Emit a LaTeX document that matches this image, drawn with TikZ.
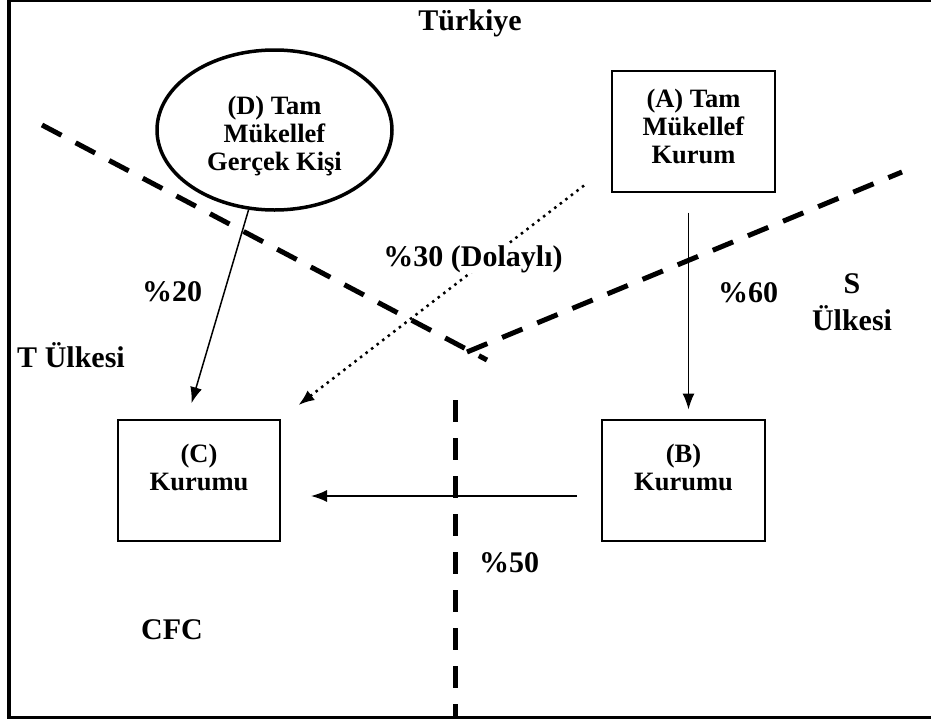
\documentclass[tikz,border=0pt]{standalone}
\usepackage{fontspec}
\setmainfont{Liberation Serif}
\usetikzlibrary{positioning,arrows.meta,shapes.geometric}

\begin{document}
\begin{tikzpicture}[
  x=1pt, y=-1pt,
  font=\bfseries\fontsize{26.5}{28}\selectfont,
  yazi/.style={align=center, inner sep=0pt},
  baslik/.style={align=center, inner sep=0pt, anchor=base,
                 font=\bfseries\fontsize{30}{34}\selectfont},
  kutu/.style={draw, line width=2pt, minimum width=163pt, minimum height=121pt,
               inner sep=0pt},
  elips/.style={draw, ellipse, line width=3.5pt, minimum width=235pt,
                minimum height=160pt, inner sep=0pt},
  ok/.style={-{Latex[length=16pt,width=12pt]}, line width=1.5pt},
  dolayli/.style={-{Latex[length=16pt,width=12pt]}, line width=2.5pt,
                  dash pattern=on 2.5pt off 4.5pt},
  sinir/.style={line width=5pt, dash pattern=on 22pt off 16pt},
]
\useasboundingbox (0,0) rectangle (931,720);

% ---- Cerceve --------------------------------------------------------------
\draw[line width=3.5pt] (9,0) rectangle (960,717.5);

% ---- Ulke sinirlari -------------------------------------------------------
\draw[sinir] (42,125) -- (487,360);
\draw[sinir] (467,352) -- (902,172);
\draw[sinir] (455,400) -- (455,716);

% ---- Kurumlar ve kisi -----------------------------------------------------
\node[elips, label={[yazi, yshift=-6.5pt]center:{(D) Tam\\Mükellef\\Gerçek Kişi}}]
      (kisiD) at (274.5,130) {};
\node[kutu, label={[yazi, anchor=north, yshift=-19.5pt]north:{(A) Tam\\Mükellef\\Kurum}}]
      (kurumA) at (693.5,131) {};
\node[kutu, label={[yazi, anchor=north, yshift=-25.5pt]north:{(B)\\Kurumu}}]
      (kurumB) at (683.5,480) {};
\node[kutu, minimum width=162pt, label={[yazi, anchor=north, yshift=-25.5pt]north:{(C)\\Kurumu}}]
      (kurumC) at (199,480) {};

% ---- Oklar ----------------------------------------------------------------
\draw[ok, shorten >=16pt] (kisiD.-108) -- ([xshift=-12pt]kurumC.north);
\draw[dolayli, shorten >=22pt] ([xshift=-27pt, yshift=7pt]kurumA.south west)
      -- (kurumC.north east);
\draw[ok, shorten <=20pt, shorten >=9pt] ([xshift=-5pt]kurumA.south)
      -- ([xshift=-5pt]kurumA.south |- kurumB.north);
\draw[ok, shorten <=24pt, shorten >=30pt] ([yshift=-16pt]kurumB.west)
      -- ([yshift=-16pt]kurumC.east);

% ---- Ulke adlari ve oranlar -----------------------------------------------
\node[baslik] (turkiye) at (470,30) {Türkiye};
\node[baslik] (tulke)   at (71,367) {T Ülkesi};
\node[baslik] (sulke)   at (852,330) {S\\[3pt]Ülkesi};
\node[baslik] (cfc)     at (172,639) {CFC};

\node[baslik] (oran20) at (172,301) {\%20};
\node[baslik, fill=white, inner sep=1pt] (oran30) at (473,266) {\%30 (Dolaylı)};
\node[baslik] (oran60) at (748,302) {\%60};
\node[baslik] (oran50) at (509,572) {\%50};

\end{tikzpicture}
\end{document}
